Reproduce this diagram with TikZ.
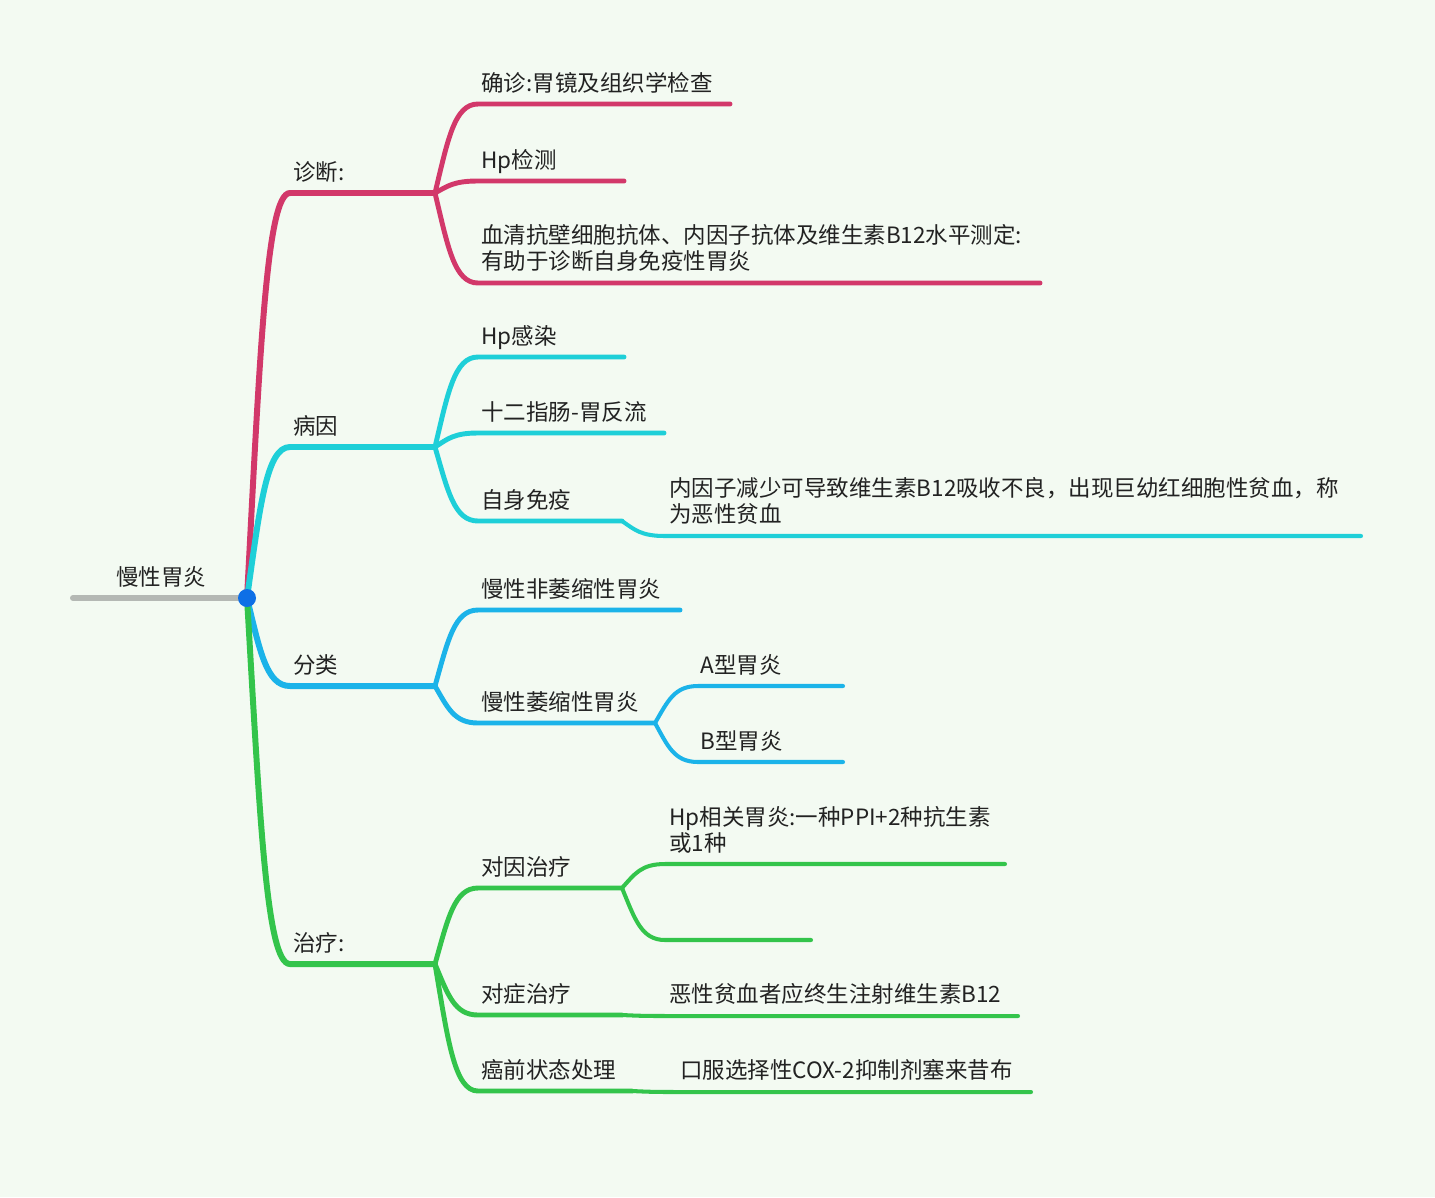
\documentclass[tikz,border=0pt]{standalone}
\usepackage{fontspec}
\setmainfont{Noto Sans CJK SC}
\usetikzlibrary{calc}
\definecolor{bg}{HTML}{F3FAF2}
\definecolor{cmag}{HTML}{D2386A}
\definecolor{ccyan}{HTML}{1ECFD8}
\definecolor{cblue}{HTML}{1BB3E9}
\definecolor{cgreen}{HTML}{33C44B}
\definecolor{cgray}{HTML}{B4B8B4}
\definecolor{cdot}{HTML}{0E6FE6}
\definecolor{ctext}{HTML}{222222}
\tikzset{
  branch/.style={to path={let \p1=(\tikztostart), \p2=(\tikztotarget) in
    .. controls (\x1+0.3*\x2-0.3*\x1, \y1+0.6*\y2-0.6*\y1) and (\x1+0.45*\x2-0.45*\x1, \y2) .. (\tikztotarget)}},
  lone/.style={line width=3.4pt, line cap=round},
  ltwo/.style={line width=2.8pt, line cap=round},
  lthree/.style={line width=2.3pt, line cap=round},
  lbl/.style={anchor=base west, inner sep=0pt, text=ctext, font=\fontsize{12.8pt}{14.8pt}\selectfont, align=left},
}
\begin{document}
\begin{tikzpicture}[x=0.02cm,y=-0.02cm]
\fill[bg] (0,0) rectangle (1435,1197);
\useasboundingbox (0,0) rectangle (1435,1197);

% coordinates
\coordinate (rootL) at (73,598);
\coordinate (root) at (247,598);
% level 1
\coordinate (zd) at (290,193);  \coordinate (zdE) at (435,193);
\coordinate (by) at (290,447);  \coordinate (byE) at (435,447);
\coordinate (fl) at (290,686);  \coordinate (flE) at (435,686);
\coordinate (zl) at (290,964);  \coordinate (zlE) at (435,964);
% level 2
\coordinate (zd1) at (478,104); \coordinate (zd1E) at (730,104);
\coordinate (zd2) at (478,181); \coordinate (zd2E) at (624,181);
\coordinate (zd3) at (478,283); \coordinate (zd3E) at (1040,283);
\coordinate (by1) at (478,357); \coordinate (by1E) at (624,357);
\coordinate (by2) at (478,433); \coordinate (by2E) at (664,433);
\coordinate (by3) at (478,521); \coordinate (by3E) at (622,521);
\coordinate (fl1) at (478,610); \coordinate (fl1E) at (680,610);
\coordinate (fl2) at (478,723); \coordinate (fl2E) at (655,723);
\coordinate (zl1) at (478,888); \coordinate (zl1E) at (622,888);
\coordinate (zl2) at (478,1015); \coordinate (zl2E) at (622,1015);
\coordinate (zl3) at (478,1091); \coordinate (zl3E) at (632,1091);
% level 3
\coordinate (by31) at (665,536); \coordinate (by31E) at (1361,536);
\coordinate (fl21) at (698,686); \coordinate (fl21E) at (843,686);
\coordinate (fl22) at (698,762); \coordinate (fl22E) at (843,762);
\coordinate (zl11) at (665,864); \coordinate (zl11E) at (1005,864);
\coordinate (zl12) at (665,940); \coordinate (zl12E) at (811,940);
\coordinate (zl21) at (665,1016); \coordinate (zl21E) at (1018,1016);
\coordinate (zl31) at (675,1092); \coordinate (zl31E) at (1031,1092);

% root line
\draw[lone, cgray] (rootL) -- (root);

% 诊断 branch
\draw[lone, cmag] (root) to[branch] (zd) -- (zdE);
\draw[ltwo, cmag] (zdE) to[branch] (zd1) -- (zd1E);
\draw[ltwo, cmag] (zdE) to[branch] (zd2) -- (zd2E);
\draw[ltwo, cmag] (zdE) to[branch] (zd3) -- (zd3E);

% 病因 branch
\draw[lone, ccyan] (root) to[branch] (by) -- (byE);
\draw[ltwo, ccyan] (byE) to[branch] (by1) -- (by1E);
\draw[ltwo, ccyan] (byE) to[branch] (by2) -- (by2E);
\draw[ltwo, ccyan] (byE) to[branch] (by3) -- (by3E);
\draw[lthree, ccyan] (by3E) to[branch] (by31) -- (by31E);

% 分类 branch
\draw[lone, cblue] (root) to[branch] (fl) -- (flE);
\draw[ltwo, cblue] (flE) to[branch] (fl1) -- (fl1E);
\draw[ltwo, cblue] (flE) to[branch] (fl2) -- (fl2E);
\draw[lthree, cblue] (fl2E) to[branch] (fl21) -- (fl21E);
\draw[lthree, cblue] (fl2E) to[branch] (fl22) -- (fl22E);

% 治疗 branch
\draw[lone, cgreen] (root) to[branch] (zl) -- (zlE);
\draw[ltwo, cgreen] (zlE) to[branch] (zl1) -- (zl1E);
\draw[ltwo, cgreen] (zlE) to[branch] (zl2) -- (zl2E);
\draw[ltwo, cgreen] (zlE) to[branch] (zl3) -- (zl3E);
\draw[lthree, cgreen] (zl1E) to[branch] (zl11) -- (zl11E);
\draw[lthree, cgreen] (zl1E) to[branch] (zl12) -- (zl12E);
\draw[lthree, cgreen] (zl2E) to[branch] (zl21) -- (zl21E);
\draw[lthree, cgreen] (zl3E) to[branch] (zl31) -- (zl31E);

% center dot
\fill[cdot] (root) circle[radius=9];

% labels
\node[lbl] (tRoot) at (116,585) {慢性胃炎};
\node[lbl] (tZd) at (293,180) {诊断:};
\node[lbl] (tBy) at (293,434) {病因};
\node[lbl] (tFl) at (293,673) {分类};
\node[lbl] (tZl) at (293,951) {治疗:};

\node[lbl] (tZd1) at (481,91) {确诊:胃镜及组织学检查};
\node[lbl] (tZd2) at (481,168) {Hp检测};
\node[lbl] (tZd3) at (481,269) {血清抗壁细胞抗体、内因子抗体及维生素B12水平测定:\\有助于诊断自身免疫性胃炎};

\node[lbl] (tBy1) at (481,344) {Hp感染};
\node[lbl] (tBy2) at (481,420) {十二指肠-胃反流};
\node[lbl] (tBy3) at (481,508) {自身免疫};
\node[lbl] (tBy31) at (669,522) {内因子减少可导致维生素B12吸收不良，出现巨幼红细胞性贫血，称\\为恶性贫血};

\node[lbl] (tFl1) at (481,597) {慢性非萎缩性胃炎};
\node[lbl] (tFl2) at (481,710) {慢性萎缩性胃炎};
\node[lbl] (tFl21) at (700,673) {A型胃炎};
\node[lbl] (tFl22) at (700,749) {B型胃炎};

\node[lbl] (tZl1) at (481,875) {对因治疗};
\node[lbl] (tZl11) at (669,851) {Hp相关胃炎:一种PPI+2种抗生素\\或1种};
\node[lbl] (tZl2) at (481,1002) {对症治疗};
\node[lbl] (tZl21) at (669,1002) {恶性贫血者应终生注射维生素B12};
\node[lbl] (tZl3) at (481,1078) {癌前状态处理};
\node[lbl] (tZl31) at (680,1078) {口服选择性COX-2抑制剂塞来昔布};
\end{tikzpicture}
\end{document}
